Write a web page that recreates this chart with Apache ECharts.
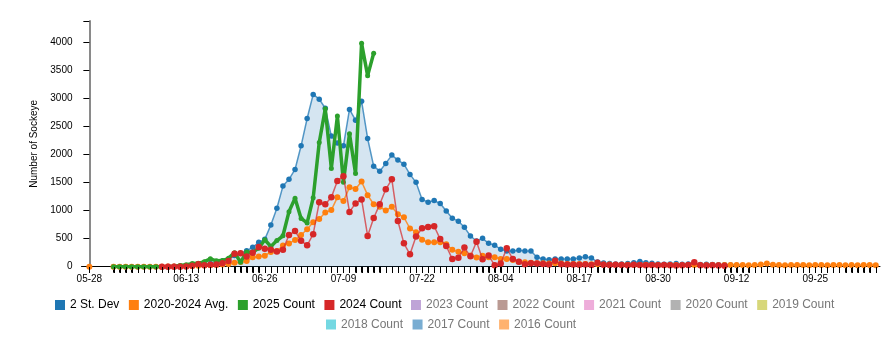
<!DOCTYPE html>
<html>
<head>
<meta charset="utf-8">
<script src="https://cdn.jsdelivr.net/npm/echarts@6/dist/echarts.min.js"></script>
<style>
  html, body { margin: 0; padding: 0; background: #fff; }
  #chart { width: 896px; height: 361px; }
</style>
</head>
<body>
<div id="chart"></div>
<script>
// ---- categories (MM-DD), one per day, index 0 = 05-28 ----
const firstDay = [2025, 4, 28];   // 05-28
const lastDay  = [2025, 9, 5];    // 10-05
const categories = [];
for (let d = new Date(firstDay[0], firstDay[1], firstDay[2]); d <= new Date(lastDay[0], lastDay[1], lastDay[2]); d.setDate(d.getDate() + 1)) {
  categories.push(String(d.getMonth() + 1).padStart(2, '0') + '-' + String(d.getDate()).padStart(2, '0'));
}
const labelDates = ['05-28', '06-13', '06-26', '07-09', '07-22', '08-04', '08-17', '08-30', '09-12', '09-25'];

// ---- series values ----
const stdevStart = '06-01';
const stdevValues = [
  0,0,0,0,0,0,0,0,0,
  2,4,8,12,18,28,40,55,75,100,130,200,240,285,345,
  433,487,741,1040,1435,1555,1731,2152,2638,3067,2982,2820,2324,2200,2152,2798,2608,2946,2282,1790,
  1701,1838,1986,1897,1824,1643,1501,1198,1148,1177,1124,990,861,810,701,546,457,505,416,383,
  309,279,279,291,279,279,167,137,122,137,137,137,137,155,178,155,83,65,59,50,
  50,59,71,92,70,60,50,45,50,55,45,50,45,40,45,40,35,35,30,25
];

const avgStart = '05-28';
const avgValues = [
  0, null, null, null,
  0,0,0,0,0,0,0,0,0,
  2,4,6,10,14,18,22,28,32,38,50,70,85,100,170,
  180,195,262,280,376,415,474,563,667,789,850,963,1008,1234,1168,1412,1382,1515,1273,1112,
  1067,1000,1067,935,878,680,615,480,434,434,434,400,300,267,238,200,165,196,167,167,
  137,137,119,89,78,71,60,60,55,60,55,50,50,48,46,45,42,40,38,36,
  35,36,33,30,34,31,30,28,32,30,27,29,31,28,26,30,27,29,32,30,
  30,28,32,40,55,35,30,28,31,29,30,27,29,31,28,30,29,27,30,28,29,31,28
];

const count2025Start = '06-01';
const count2025Values = [
  0,0,0,0,0,0,0,0,0,3,
  10,20,35,55,60,90,140,105,110,150,250,80,260,255,
  330,480,360,465,550,980,1220,860,780,1225,2210,2810,1750,2680,1505,2365,1660,3975,3400,3800
];

const count2024Start = '06-09';
const count2024Values = [
  0,0,0,0,5,15,45,25,35,40,60,100,230,240,180,250,
  350,320,300,270,300,563,635,460,380,578,1145,1112,1234,1526,1612,975,1127,1198,548,866,
  1110,1378,1555,813,416,220,537,683,706,720,492,368,135,158,340,185,444,132,200,25,
  55,330,137,89,45,60,55,50,40,107,45,40,40,35,40,30,70,35,30,35,
  30,25,35,30,25,30,25,30,25,20,25,30,77,25,20,25,20,15
];

const yTicks = [0, 500, 1000, 1500, 2000, 2500, 3000, 3500, 4000];

const legendRow1 = ['2 St. Dev', '2020-2024 Avg.', '2025 Count', '2024 Count', '2023 Count', '2022 Count', '2021 Count', '2020 Count', '2019 Count'];
const legendRow2 = ['2018 Count', '2017 Count', '2016 Count'];
const activeNames = ['2 St. Dev', '2020-2024 Avg.', '2025 Count', '2024 Count'];

// ---- build ----
// pairs [dayIndex, value]; null values become gaps
function pairs(start, values) {
  const i0 = categories.indexOf(start);
  return values.map((v, k) => [i0 + k, v === null ? '-' : v]);
}
const stdev = pairs(stdevStart, stdevValues);
const avg = pairs(avgStart, avgValues);
const c2025 = pairs(count2025Start, count2025Values);
const c2024 = pairs(count2024Start, count2024Values);
const tickSet = new Set();
[stdev, avg, c2025, c2024].forEach(s => s.forEach(p => { if (p[1] !== '-') tickSet.add(p[0]); }));
const tickIdx = Array.from(tickSet).sort((a, b) => a - b);
const labelIdx = labelDates.map(d => categories.indexOf(d));

const allMax = Math.max(...stdevValues, ...avgValues.filter(v => v !== null), ...count2025Values, ...count2024Values);
const yMax = Math.round(allMax * 1.1);

const colors = {
  '2 St. Dev': '#1f77b4', '2020-2024 Avg.': '#ff7f0e', '2025 Count': '#2ca02c', '2024 Count': '#d62728',
  '2023 Count': 'rgb(191,164,215)', '2022 Count': 'rgb(186,154,147)', '2021 Count': 'rgb(238,173,218)',
  '2020 Count': 'rgb(178,178,178)', '2019 Count': 'rgb(215,215,122)', '2018 Count': 'rgb(116,216,226)',
  '2017 Count': 'rgb(121,173,210)', '2016 Count': 'rgb(255,178,110)'
};
const FONT = '"Liberation Sans", Arial, Helvetica, sans-serif';

function legendItems(names) {
  return names.map(n => ({
    name: n,
    itemStyle: { color: colors[n] },
    textStyle: { color: activeNames.includes(n) ? '#000' : '#777' }
  }));
}

const series = [
  {
    name: '2 St. Dev', type: 'line', data: stdev, z: 2,
    symbol: 'circle', symbolSize: 5.5, showAllSymbol: true,
    lineStyle: { width: 1.5, color: '#1f77b4', opacity: 0.75 },
    itemStyle: { color: '#1f77b4' },
    areaStyle: { color: 'rgba(31,119,180,0.19)', opacity: 1 }
  },
  {
    name: '2020-2024 Avg.', type: 'line', data: avg, z: 3,
    symbol: 'circle', symbolSize: 6, showAllSymbol: true,
    lineStyle: { width: 1.5, color: '#ff7f0e', opacity: 0.8 },
    itemStyle: { color: '#ff7f0e' }
  },
  {
    name: '2025 Count', type: 'line', data: c2025, z: 4,
    symbol: 'circle', symbolSize: 5, showAllSymbol: true,
    lineStyle: { width: 3.5, color: '#2ca02c' },
    itemStyle: { color: '#2ca02c' }
  },
  {
    name: '2024 Count', type: 'line', data: c2024, z: 5,
    symbol: 'circle', symbolSize: 6.5, showAllSymbol: true,
    lineStyle: { width: 1.5, color: '#d62728', opacity: 0.7 },
    itemStyle: { color: '#d62728' }
  },
  {
    // day ticks below the x axis, placed through the axis scale
    name: 'dayTicks', type: 'custom', silent: true, clip: false, z: 10,
    data: tickIdx.map(i => [i, 0]),
    renderItem: function (params, api) {
      const p = api.coord([api.value(0), 0]);
      const x = Math.round(p[0]) + 0.5;
      const y = Math.round(p[1]);
      return { type: 'line', shape: { x1: x, y1: y, x2: x, y2: y + 6 }, style: { stroke: '#000', lineWidth: 1 } };
    }
  }
];
legendRow1.concat(legendRow2).forEach(n => {
  if (!activeNames.includes(n)) {
    series.push({ name: n, type: 'line', data: [], itemStyle: { color: colors[n] } });
  }
});

const chart = echarts.init(document.getElementById('chart'), null, { renderer: 'canvas' });
chart.setOption({
  animation: false,
  textStyle: { fontFamily: FONT },
  grid: { left: 81.5, top: 21, width: 798.5, height: 245.7, containLabel: false },
  legend: [
    {
      data: legendItems(legendRow1), left: 50, top: 294,
      icon: 'rect', itemWidth: 10, itemHeight: 10, itemGap: 9.5, selectedMode: false,
      textStyle: { fontSize: 12, fontFamily: FONT }
    },
    {
      data: legendItems(legendRow2), left: 321, top: 313.5,
      icon: 'rect', itemWidth: 10, itemHeight: 10, itemGap: 9.5, selectedMode: false,
      textStyle: { fontSize: 12, fontFamily: FONT }
    }
  ],
  xAxis: {
    type: 'value', min: -1.3, max: 130.7,
    axisLine: { onZero: false, lineStyle: { color: '#000', width: 1 } },
    axisTick: { show: true, length: 6, customValues: tickIdx, lineStyle: { color: '#000', width: 1 } },
    axisLabel: { customValues: labelIdx, formatter: (v) => categories[Math.round(v)] || '',
      fontSize: 10, color: '#000', margin: 8, fontFamily: FONT, showMinLabel: true, showMaxLabel: true },
    splitLine: { show: false }
  },
  yAxis: {
    type: 'value', min: 0, max: yMax, interval: 500,
    name: 'Number of Sockeye', nameLocation: 'middle', nameGap: 34, nameRotate: 90,
    nameTextStyle: { fontSize: 10, color: '#000', fontFamily: FONT },
    axisLine: { show: true, lineStyle: { color: '#8a8a8a', width: 2 } },
    axisTick: { show: true, length: 6, lineStyle: { color: '#000' } },
    axisLabel: { fontSize: 10, color: '#000', margin: 9, fontFamily: FONT,
      formatter: (v) => yTicks.includes(v) ? String(v) : '' },
    splitLine: { show: false }
  },
  series: series
});
</script>
</body>
</html>
